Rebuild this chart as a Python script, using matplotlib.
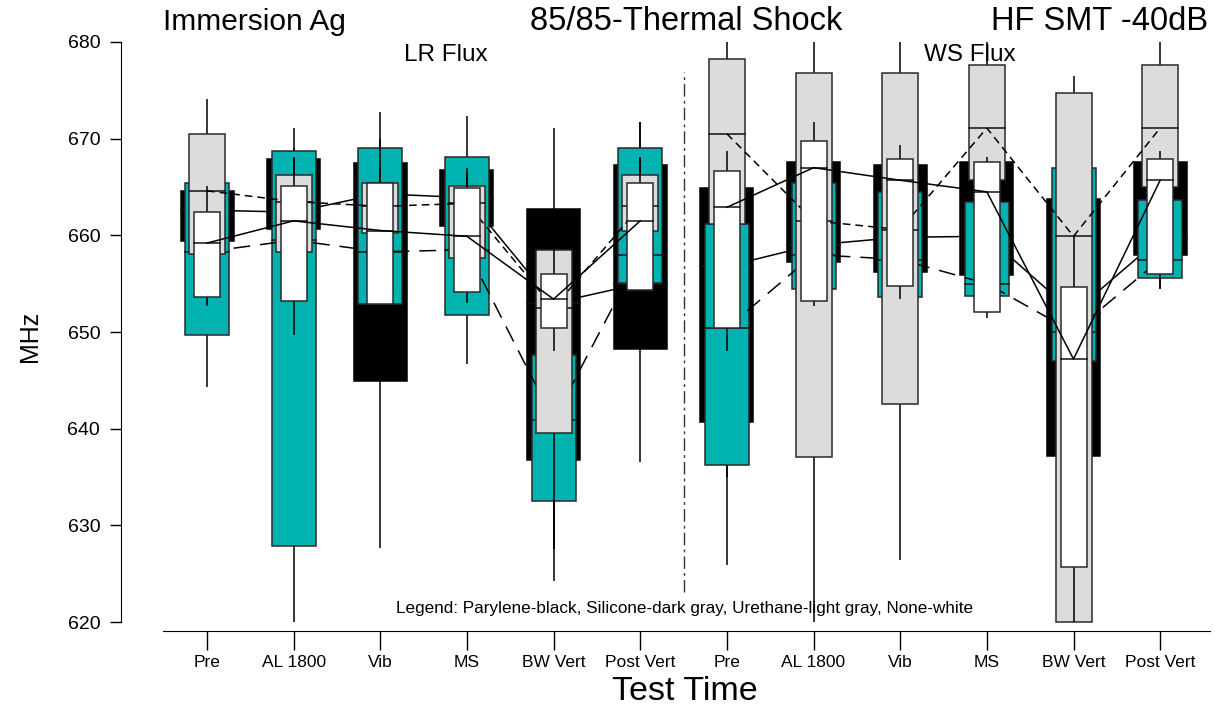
import matplotlib
matplotlib.use("Agg")
import matplotlib.pyplot as plt
from matplotlib.patches import Rectangle

plt.rcParams['font.family'] = ['Liberation Sans', 'DejaVu Sans']

# ---------------- data ----------------
groups = ["Pre", "AL 1800", "Vib", "MS", "BW Vert", "Post Vert",
          "Pre", "AL 1800", "Vib", "MS", "BW Vert", "Post Vert"]

# Parylene (black)
par_q1 = [659.4, 660.7, 644.9, 661.0, 636.8, 648.2, 640.7, 657.2, 656.2, 655.9, 637.2, 658.0]
par_q3 = [664.6, 667.9, 667.5, 666.8, 662.7, 667.3, 664.9, 667.6, 667.3, 667.6, 663.8, 667.6]
par_med = [662.6, 662.4, 664.3, 663.9, 653.0, 655.0, 656.8, 659.0, 659.8, 659.9, 652.0, 659.7]
par_lo = [658.5, 659.0, 627.7, 660.0, 624.2, 636.6, 635.0, 656.0, 655.0, 655.0, 630.0, 657.0]
par_hi = [665.5, 669.0, 670.0, 668.0, 671.1, 671.7, 666.0, 669.0, 668.5, 669.0, 665.0, 669.0]

# Silicone (dark gray / teal)
sil_q1 = [649.7, 627.9, 652.9, 651.8, 632.5, 655.1, 636.2, 654.4, 653.6, 653.7, 647.0, 655.6]
sil_q3 = [665.4, 668.7, 669.0, 668.1, 647.6, 669.0, 661.2, 665.4, 664.5, 663.4, 667.0, 663.7]
sil_med = [658.3, 659.5, 658.3, 658.5, 640.9, 658.0, 650.4, 658.0, 657.5, 655.0, 650.0, 657.5]
sil_lo = [644.3, 620.0, 650.0, 646.7, 627.6, 653.0, 625.9, 653.0, 652.0, 652.0, 645.0, 654.4]
sil_hi = [667.0, 671.1, 672.8, 672.3, 650.0, 671.7, 663.0, 667.0, 666.0, 665.0, 668.0, 665.0]

# Urethane (light gray)
ure_q1 = [658.1, 658.3, 660.2, 657.7, 639.6, 660.4, 661.2, 637.1, 642.6, 665.7, 620.0, 665.0]
ure_q3 = [670.5, 666.2, 665.4, 665.1, 658.5, 666.2, 678.2, 676.8, 676.8, 677.6, 674.7, 677.6]
ure_med = [664.6, 663.5, 663.0, 663.3, 652.5, 663.0, 670.5, 661.5, 660.6, 671.1, 659.9, 671.1]
ure_lo = [655.0, 656.0, 659.0, 656.0, 627.6, 658.0, 660.0, 620.0, 626.4, 664.0, 620.0, 664.0]
ure_hi = [674.1, 668.0, 667.0, 667.0, 662.0, 668.0, 680.0, 680.0, 680.0, 680.0, 676.5, 680.0]

# None (white)
non_q1 = [653.6, 653.2, 652.9, 654.1, 650.4, 654.3, 650.4, 653.2, 654.8, 652.1, 625.7, 656.0]
non_q3 = [662.4, 665.1, 665.4, 664.9, 656.0, 665.4, 666.7, 669.8, 667.9, 667.6, 654.7, 667.9]
non_med = [659.2, 661.5, 660.5, 659.9, 653.4, 661.5, 662.9, 667.0, 665.7, 664.5, 647.2, 665.7]
non_lo = [652.7, 649.7, 651.0, 653.0, 648.0, 652.0, 648.0, 652.7, 653.4, 651.5, 620.0, 654.4]
non_hi = [665.1, 668.1, 669.0, 666.5, 658.5, 668.1, 668.7, 671.7, 669.3, 668.1, 659.9, 668.7]

yticks = [620, 630, 640, 650, 660, 670, 680]

# ---------------- figure ----------------
W, H = 1215, 713
fig = plt.figure(figsize=(W / 100, H / 100), dpi=100)
ax_l, ax_r, ax_t, ax_b = 121, 1210, 42, 631
ax = fig.add_axes([ax_l / W, 1 - ax_b / H, (ax_r - ax_l) / W, (ax_b - ax_t) / H])

spacing = 86.65
x0 = 207
xmin = (ax_l - x0) / spacing
xmax = (ax_r - x0) / spacing
ax.set_xlim(xmin, xmax)
ymin = 620 - (ax_b - 622) / 9.667
ax.set_ylim(ymin, 680)

series = [
    dict(q1=par_q1, q3=par_q3, med=par_med, lo=par_lo, hi=par_hi,
         fc="black", ec="black", w=53, ls="-"),
    dict(q1=sil_q1, q3=sil_q3, med=sil_med, lo=sil_lo, hi=sil_hi,
         fc="#00B3B0", ec="#2a2a2a", w=44, ls=(0, (11, 6.5))),
    dict(q1=ure_q1, q3=ure_q3, med=ure_med, lo=ure_lo, hi=ure_hi,
         fc="#DCDCDC", ec="#2a2a2a", w=36, ls=(0, (5, 3.3))),
    dict(q1=non_q1, q3=non_q3, med=non_med, lo=non_lo, hi=non_hi,
         fc="white", ec="#2a2a2a", w=26, ls="-"),
]

xs = list(range(len(groups)))
z = 2
for s in series:
    w = s["w"] / spacing
    for i in xs:
        q1, q3, m = s["q1"][i], s["q3"][i], s["med"][i]
        ax.plot([i, i], [s["lo"][i], q1], color="black", lw=1.1, zorder=z, solid_capstyle="butt")
        ax.plot([i, i], [q3, s["hi"][i]], color="black", lw=1.1, zorder=z, solid_capstyle="butt")
        ax.add_patch(Rectangle((i - w / 2, q1), w, q3 - q1, facecolor=s["fc"],
                               edgecolor=s["ec"], lw=1.1, zorder=z + 0.1))
        ax.plot([i - w / 2, i + w / 2], [m, m], color="#111111", lw=1.1, zorder=z + 0.2)
    # connecting line within each flux half
    for a, b in [(0, 6), (6, 12)]:
        ax.plot(xs[a:b], s["med"][a:b], color="black", lw=1.1, ls=s["ls"], zorder=z + 0.3)
    z += 1

# divider
ax.plot([5.5, 5.5], [623.1, 676.9], color="#333333", lw=1.0,
        ls=(0, (9, 3, 2, 3)), zorder=1)

# axes styling
for sp in ["top", "right"]:
    ax.spines[sp].set_visible(False)
ax.spines["left"].set_bounds(620, 680)
ax.spines["bottom"].set_bounds((163 - x0) / spacing, xmax)
ax.set_yticks(yticks)
ax.set_yticklabels([str(v) for v in yticks], fontsize=14)
ax.set_xticks(xs)
ax.set_xticklabels(groups, fontsize=12.5)
ax.tick_params(axis="y", length=8, width=1, pad=7)
ax.tick_params(axis="x", length=14, width=1, pad=3)
ax.set_ylabel("MHz", fontsize=18, labelpad=18)

# titles and annotations
fig.text(163 / W, 1 - 22 / H, "Immersion Ag", fontsize=21.5, ha="left", va="center")
fig.text(686 / W, 1 - 22 / H, "85/85-Thermal Shock", fontsize=23.5, ha="center", va="center")
fig.text(1208 / W, 1 - 22 / H, "HF SMT -40dB", fontsize=23.5, ha="right", va="center")
fig.text(446 / W, 1 - 55 / H, "LR Flux", fontsize=17.5, ha="center", va="center")
fig.text(970 / W, 1 - 55 / H, "WS Flux", fontsize=17.5, ha="center", va="center", zorder=10)
fig.text(685 / W, 1 - 608 / H,
         "Legend: Parylene-black, Silicone-dark gray, Urethane-light gray, None-white",
         fontsize=12.3, ha="center", va="center")
fig.text(685 / W, 1 - 692 / H, "Test Time", fontsize=24.5, ha="center", va="center")

fig.savefig("out.png", dpi=100)
